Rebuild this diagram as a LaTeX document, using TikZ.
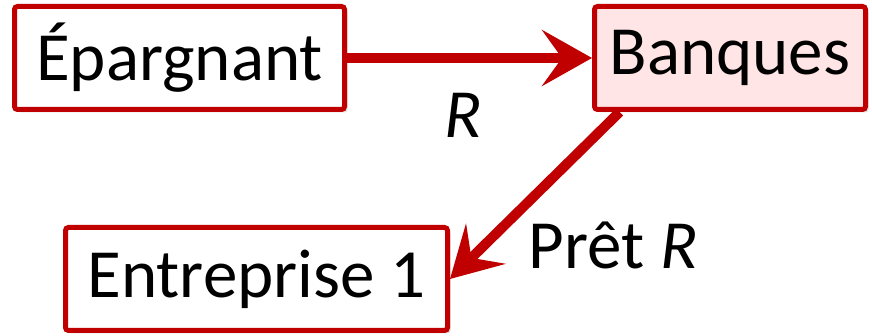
\documentclass[tikz,border=0pt]{standalone}
\usepackage{fontspec}
\setmainfont{Carlito}
\usetikzlibrary{positioning}
\usetikzlibrary{arrows.meta,calc,shadows}
\definecolor{bordeaux}{HTML}{C00000}
\definecolor{rosepale}{HTML}{FFE5E5}

\begin{document}
\begin{tikzpicture}[node distance=122.5pt,auto,thick,
  box/.style={draw=bordeaux,line width=2.5pt,rounded corners=1.5pt,fill=white,
    minimum height=51.5pt,inner sep=0pt,font=\fontsize{34.5}{40}\selectfont,
    drop shadow={shadow xshift=1.5pt,shadow yshift=-1.5pt,opacity=0.25}},
  lab/.style={inner sep=0pt,font=\fontsize{34.5}{40}\selectfont},
  fleche/.style={draw=bordeaux,line width=5pt,
    -{Stealth[length=25pt,width=28pt,inset=10pt]}}]
\path[use as bounding box] (0,0) rectangle (436pt,168pt);
\path node[box,minimum width=165pt] at (89.75pt,139pt) (ep) {Épargnant};
\path node[box,minimum width=135.5pt,fill=rosepale,right=of ep] (bq) {Banques};
\path node[box,minimum width=191pt,below=56.5pt of ep,xshift=38.5pt] (ent) {Entreprise 1};
\draw[fleche] (ep) -- node[lab,below=15pt,xshift=-3pt] {\textit{R}} (bq);
\draw[fleche] ($(bq.south west)!0.1!(bq.south east)$) -- node[lab,pos=0.8,anchor=west,xshift=20pt] {Prêt \textit{R}} (ent.east);
\end{tikzpicture}
\end{document}
